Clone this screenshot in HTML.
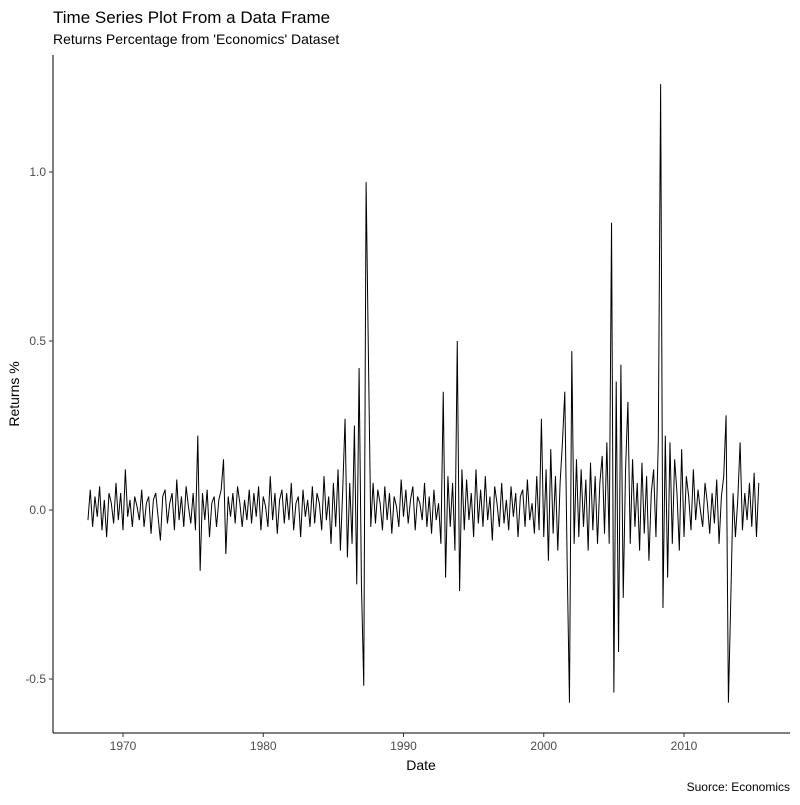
<!DOCTYPE html>
<html><head><meta charset="utf-8"><style>
body{margin:0;background:#fff}
svg text{font-family:"Liberation Sans",Arial,sans-serif}
</style></head><body>
<svg id="chart" width="800" height="800" xmlns="http://www.w3.org/2000/svg">
<rect width="800" height="800" fill="#fff"/>
<text x="53" y="23" font-size="17" fill="#000">Time Series Plot From a Data Frame</text>
<text x="53" y="44" font-size="14" fill="#000">Returns Percentage from 'Economics' Dataset</text>
<g id="axes"></g>
<path id="series" fill="none" stroke="#000" stroke-width="1"/>
<text x="421" y="770" font-size="14" text-anchor="middle">Date</text>
<text transform="translate(19,394) rotate(-90)" font-size="14" text-anchor="middle">Returns %</text>
<text x="790" y="791" font-size="12" text-anchor="end">Suorce: Economics</text>
</svg>
<script>
const startYear = 1967.5;
const stepYears = 1/6;
const values = [
-0.03,0.06,-0.05,0.04,-0.02,0.07,-0.06,0.03,-0.08,0.05,0.02,-0.04,
0.08,-0.03,0.05,-0.06,0.12,-0.02,0.03,-0.05,0.04,0.01,-0.03,0.06,
-0.05,0.02,0.04,-0.07,0.03,0.05,-0.02,-0.09,0.04,0.06,-0.04,0.02,
0.05,-0.06,0.09,-0.03,0.04,-0.05,0.07,0.01,-0.04,0.05,-0.06,0.22,
-0.18,0.05,-0.03,0.06,-0.08,0.02,0.04,-0.05,0.03,0.06,0.15,-0.13,
0.04,-0.02,0.05,-0.04,0.07,0.02,-0.05,0.03,-0.03,0.06,-0.04,0.05,
-0.02,0.07,-0.06,0.04,0.01,-0.05,0.1,-0.03,0.05,-0.07,0.03,0.06,
-0.04,0.05,-0.03,0.08,-0.06,0.02,0.04,-0.08,0.06,-0.02,0.03,-0.05,
0.07,-0.04,0.05,0.02,-0.06,0.1,-0.03,0.04,-0.1,0.08,-0.05,0.12,
-0.12,0.06,0.27,-0.14,0.08,-0.1,0.25,-0.22,0.42,-0.22,-0.52,0.97,
0.45,-0.05,0.08,-0.04,0.06,0.02,-0.06,0.07,-0.03,0.05,-0.07,0.04,
0.01,-0.05,0.09,-0.02,0.06,-0.04,0.03,0.07,-0.06,0.04,0.02,-0.03,
0.08,-0.05,0.04,-0.07,0.06,-0.03,0.02,-0.1,0.35,-0.2,0.1,-0.05,
0.08,-0.12,0.5,-0.24,0.12,-0.06,0.09,-0.03,0.05,-0.08,0.12,-0.04,
0.06,-0.05,0.1,-0.03,0.04,-0.09,0.07,0.02,-0.05,0.08,-0.04,0.03,
-0.06,0.07,-0.02,0.05,-0.08,0.04,0.06,-0.05,0.09,-0.03,0.02,-0.07,
0.1,-0.06,0.27,-0.08,0.12,-0.15,0.18,-0.07,0.1,-0.12,0.08,0.2,
0.35,-0.15,-0.57,0.47,-0.1,0.15,-0.08,0.12,-0.05,0.09,-0.12,0.14,
-0.06,0.1,-0.1,0.08,0.16,-0.07,0.2,-0.1,0.85,-0.54,0.38,-0.42,
0.43,-0.26,0.12,0.32,-0.1,0.15,-0.05,0.08,-0.12,0.14,-0.07,0.1,
-0.15,0.05,0.12,-0.08,0.2,1.26,-0.29,0.22,-0.2,0.2,-0.1,0.15,
0.05,-0.12,0.18,-0.08,0.1,0.04,-0.06,0.12,-0.03,0.06,0.0,-0.05,
0.08,0.02,-0.07,0.05,-0.04,0.09,-0.1,0.04,0.1,0.28,-0.57,-0.27,
0.05,-0.08,0.03,0.2,-0.06,0.05,-0.03,0.08,-0.05,0.11,-0.08,0.08
];
const xTicks = [1970,1980,1990,2000,2010];
const yTicks = [-0.5,0.0,0.5,1.0];
const yTickLabels = ["-0.5","0.0","0.5","1.0"];

const X = y => 123 + (y - 1970) * 14.025;
const Y = v => 510 - v * 338;
const NS = "http://www.w3.org/2000/svg";
const axes = document.getElementById('axes');
function mk(tag, attrs, parent){const e=document.createElementNS(NS,tag);for(const k in attrs)e.setAttribute(k,attrs[k]);parent.appendChild(e);return e;}

const yAxis = mk('line',{x1:53,y1:55,x2:53,y2:733,stroke:'#000','stroke-width':1},axes);


const xAxis = mk('line',{x1:53,y1:733,x2:790,y2:733,stroke:'#000','stroke-width':1},axes);



xTicks.forEach(t=>{
  const x = X(t);
  const tk = mk('line',{x1:x,y1:733,x2:x,y2:737,stroke:'#333'},axes);
  
  
  const lb = mk('text',{x:x,y:750,'font-size':12,'text-anchor':'middle',fill:'#4d4d4d'},axes);
  lb.textContent = t;
  
  
});
yTicks.forEach((t,i)=>{
  const y = Y(t);
  const tk = mk('line',{x1:49,y1:y,x2:53,y2:y,stroke:'#333'},axes);
  
  
  const lb = mk('text',{x:46,y:y+4,'font-size':12,'text-anchor':'end',fill:'#4d4d4d'},axes);
  lb.textContent = yTickLabels[i];
  
  
});

let d = '';
values.forEach((v,i)=>{
  const x = X(startYear + i*stepYears), y = Y(v);
  d += (i ? 'L' : 'M') + x.toFixed(2) + ' ' + y.toFixed(2);
});
document.getElementById('series').setAttribute('d', d);
</script>
</body></html>
